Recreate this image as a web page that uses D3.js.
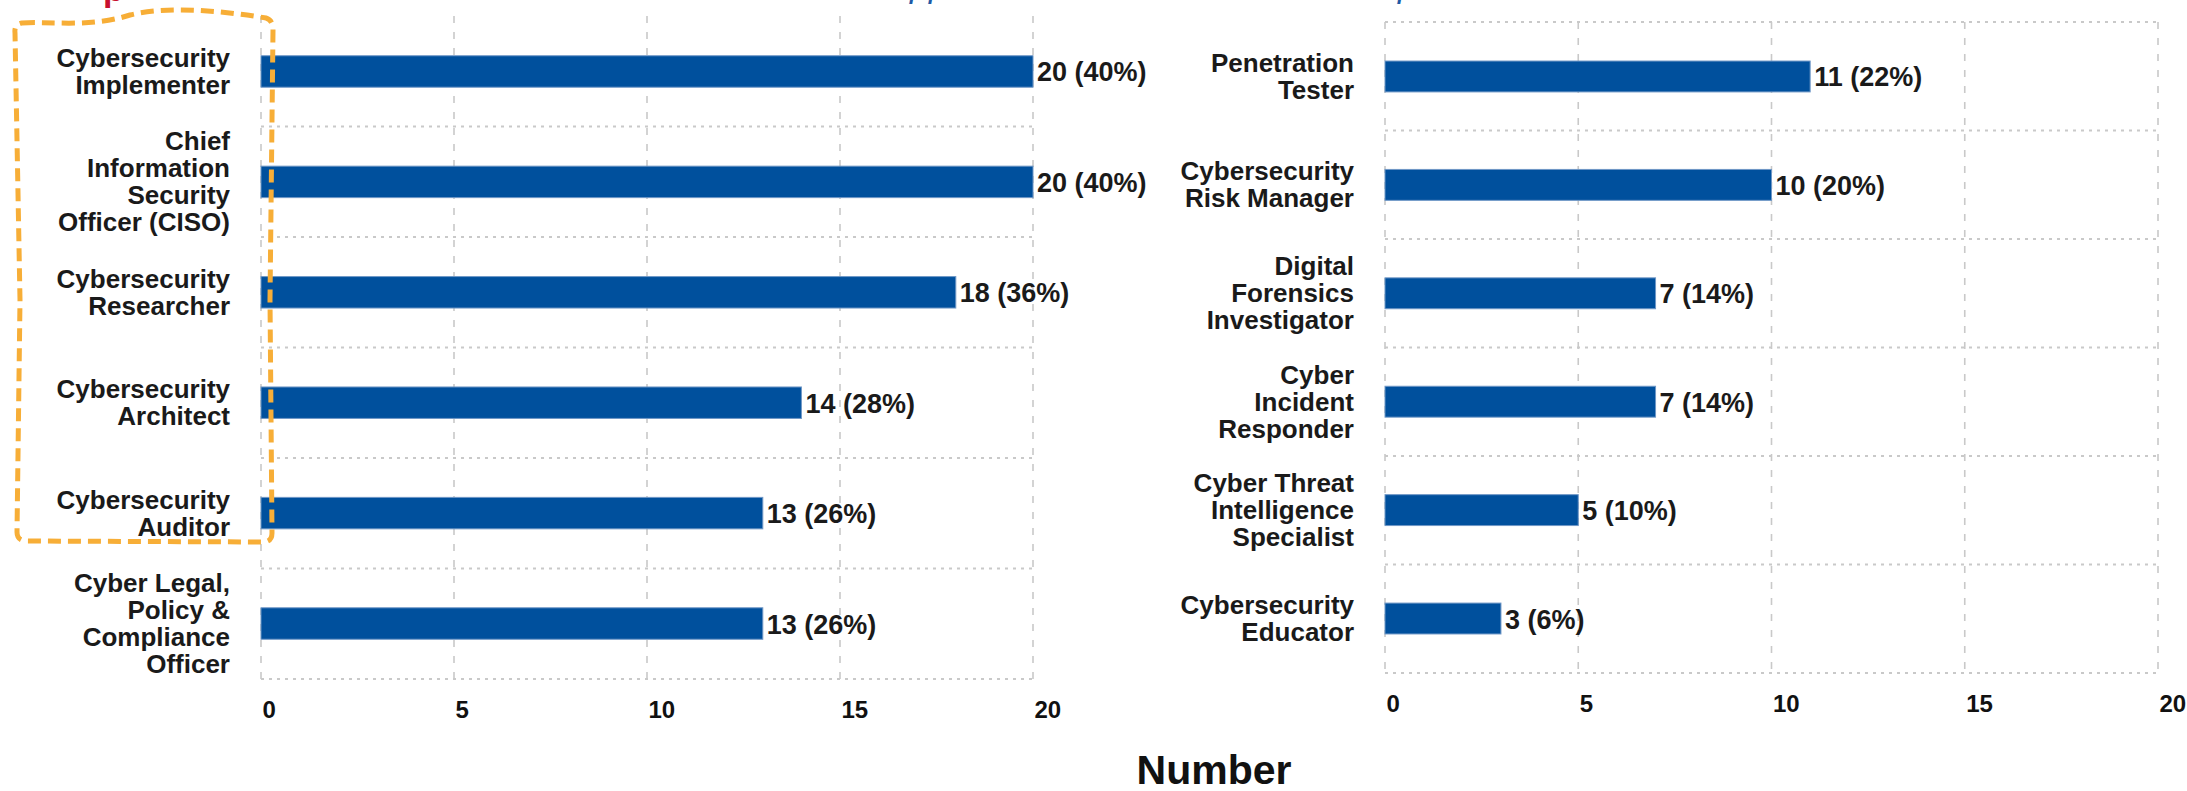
<!DOCTYPE html>
<html>
<head>
<meta charset="utf-8">
<script src="https://cdn.jsdelivr.net/npm/d3@7"></script>
<style>
  body { margin: 0; background: #fff; }
  svg { display: block; font-family: "Liberation Sans", Arial, sans-serif; }
</style>
</head>
<body>
<div id="content"></div>
<script>
// left panel
const leftRoles = [
    ["Cybersecurity", "Implementer"],
    ["Chief", "Information", "Security", "Officer (CISO)"],
    ["Cybersecurity", "Researcher"],
    ["Cybersecurity", "Architect"],
    ["Cybersecurity", "Auditor"],
    ["Cyber Legal,", "Policy &", "Compliance", "Officer"]
];
const leftCounts = [20, 20, 18, 14, 13, 13];
const leftPct = [40, 40, 36, 28, 26, 26];

// right panel
const rightRoles = [
    ["Penetration", "Tester"],
    ["Cybersecurity", "Risk Manager"],
    ["Digital", "Forensics", "Investigator"],
    ["Cyber", "Incident", "Responder"],
    ["Cyber Threat", "Intelligence", "Specialist"],
    ["Cybersecurity", "Educator"]
];
const rightCounts = [11, 10, 7, 7, 5, 3];
const rightPct = [22, 20, 14, 14, 10, 6];

const xTicks = [0, 5, 10, 15, 20];
const axisTitle = "Number";

const width = 2187, height = 791;
const barColor = "#00509d";
const gridColor = "#c9c9c9";

let svg = d3.select("#content").append("svg")
    .attr("width", width)
    .attr("height", height);

function drawPanel(roles, counts, pct, x0, x1, y0, y1, topLine) {
    let data = roles.map((r, i) => ({ id: i, lines: r, value: counts[i], pct: pct[i] }));

    let x = d3.scaleLinear().domain([0, 20]).range([x0, x1]);
    let y = d3.scaleBand().domain(data.map(d => d.id)).range([y0, y1]).paddingInner(0.715).paddingOuter(0.36);

    let g = svg.append("g");

    // vertical dashed grid
    g.append("g").selectAll("line")
        .data(xTicks)
        .enter().append("line")
        .attr("x1", d => x(d)).attr("x2", d => x(d))
        .attr("y1", y0).attr("y2", y1)
        .attr("stroke", gridColor)
        .attr("stroke-width", 1.6)
        .attr("stroke-dasharray", "7,9");

    // horizontal dotted grid at band boundaries
    let bounds = d3.range(topLine ? 0 : 1, data.length + 1).map(i => y0 + i * (y1 - y0) / data.length);
    g.append("g").selectAll("line")
        .data(bounds)
        .enter().append("line")
        .attr("x1", x0).attr("x2", x1)
        .attr("y1", d => d).attr("y2", d => d)
        .attr("stroke", gridColor)
        .attr("stroke-width", 2)
        .attr("stroke-dasharray", "3,5");

    // bars
    g.append("g").selectAll("rect")
        .data(data)
        .enter().append("rect")
        .attr("x", x(0))
        .attr("y", d => y(d.id))
        .attr("width", d => x(d.value) - x(0))
        .attr("height", y.bandwidth())
        .attr("fill", barColor)
        .attr("stroke", "#6f97c6")
        .attr("stroke-width", 1);

    // value labels
    g.append("g").selectAll("text")
        .data(data)
        .enter().append("text")
        .attr("x", d => x(d.value) + 4)
        .attr("y", d => y(d.id) + y.bandwidth() / 2 + 10)
        .attr("font-size", 27)
        .attr("font-weight", "bold")
        .attr("fill", "#1a1a1a")
        .text(d => `${d.value} (${d.pct}%)`);

    // category labels
    let lineH = 27;
    let labels = g.append("g").selectAll("text")
        .data(data)
        .enter().append("text")
        .attr("text-anchor", "end")
        .attr("font-size", 26)
        .attr("font-weight", "bold")
        .attr("fill", "#1a1a1a");
    labels.each(function (d) {
        let cy = y(d.id) + y.bandwidth() / 2;
        let n = d.lines.length;
        d3.select(this).selectAll("tspan")
            .data(d.lines)
            .enter().append("tspan")
            .attr("x", x0 - 31)
            .attr("y", (l, i) => cy + (i - (n - 1) / 2) * lineH + 9)
            .text(l => l);
    });

    // x axis tick labels
    let axis = d3.axisBottom(x).tickValues(xTicks).tickSize(0).tickPadding(0);
    let ax = g.append("g")
        .attr("transform", `translate(0, ${y1})`)
        .call(axis);
    ax.select(".domain").remove();
    ax.selectAll("text")
        .attr("text-anchor", "start")
        .attr("dx", 1)
        .attr("y", 39)
        .attr("dy", 0)
        .attr("font-size", 24)
        .attr("font-weight", "bold")
        .attr("font-family", "Liberation Sans, Arial, sans-serif")
        .attr("fill", "#111");

    return x;
}

drawPanel(leftRoles, leftCounts, leftPct, 261, 1033, 16, 679, false);
drawPanel(rightRoles, rightCounts, rightPct, 1385, 2158, 22, 673, true);

// axis title
svg.append("text")
    .attr("x", 1214)
    .attr("y", 784)
    .attr("text-anchor", "middle")
    .attr("font-size", 41)
    .attr("font-weight", "bold")
    .attr("fill", "#111")
    .text(axisTitle);

// cut-off heading fragments at the top edge
svg.append("text")
    .attr("x", 103).attr("y", 1)
    .attr("font-size", 34).attr("font-weight", "bold")
    .attr("fill", "#c8102e")
    .text("p");
svg.append("text")
    .attr("x", 910).attr("y", -3)
    .attr("font-size", 34).attr("font-style", "italic")
    .attr("fill", "#1f5aa6")
    .text("pp");
svg.append("text")
    .attr("x", 1398).attr("y", -3)
    .attr("font-size", 34).attr("font-style", "italic")
    .attr("fill", "#1f5aa6")
    .text("p");

// orange highlight box round the left labels
svg.append("path")
    .attr("d", "M 22,23 C 50,21 90,28 130,15 C 170,5 230,12 266,18 Q 273,20 273,30 L 270,300 L 272,533 Q 272,542 263,542 L 27,541 Q 17,541 17,532 L 20,300 L 15,33 Q 14,24 22,23 Z")
    .attr("fill", "none")
    .attr("stroke", "#f7ae37")
    .attr("stroke-width", 5)
    .attr("stroke-dasharray", "13,7");
</script>
</body>
</html>
